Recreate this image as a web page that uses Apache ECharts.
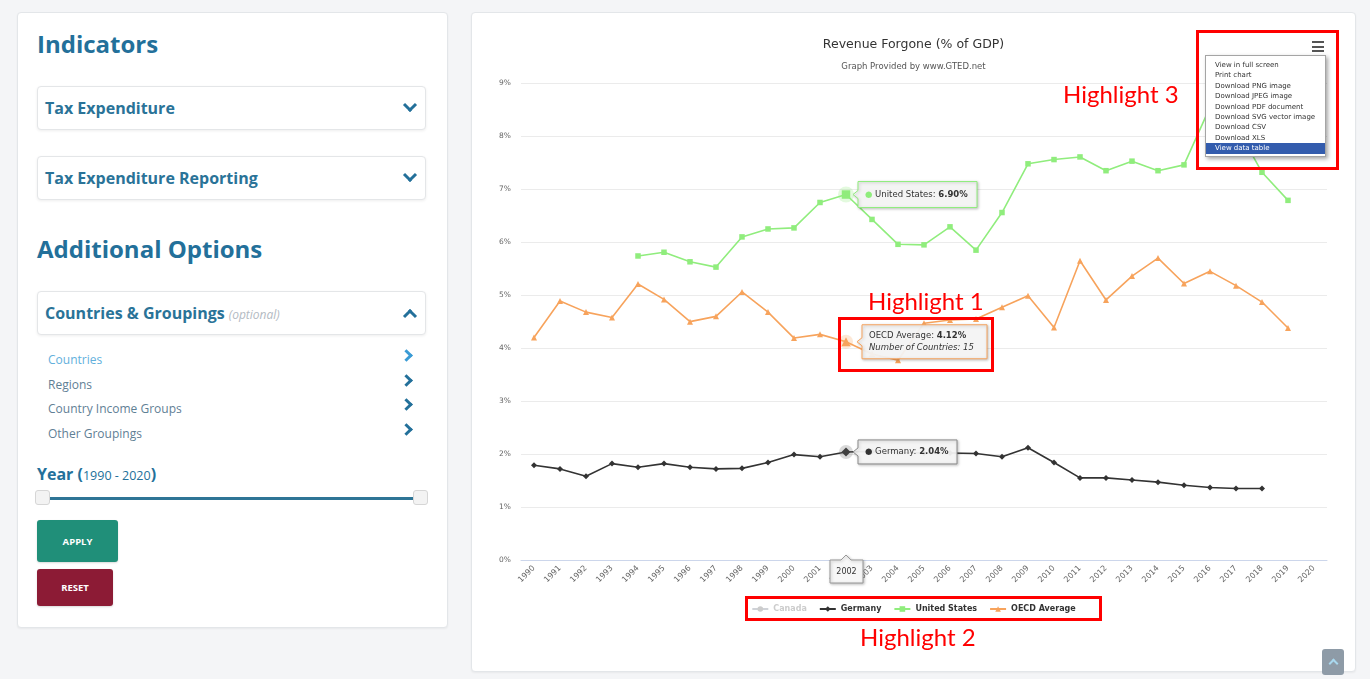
<!DOCTYPE html>
<html>
<head>
<meta charset="utf-8">
<title>Revenue Forgone (% of GDP)</title>
<script src="https://cdn.jsdelivr.net/npm/echarts@6/dist/echarts.min.js"></script>
<style>
html,body{margin:0;padding:0;}
body{width:1370px;height:679px;overflow:hidden;background:#f4f5f7;position:relative;font-family:"Open Sans",sans-serif;}
.card{position:absolute;background:#fff;border:1px solid #e3e6e9;border-radius:4px;box-sizing:border-box;box-shadow:0 1px 2px rgba(0,0,0,0.05);}
.h{position:absolute;left:37px;font-size:24px;line-height:24px;font-weight:700;color:#23709a;white-space:nowrap;}
.acc{position:absolute;left:37px;width:389px;height:44px;box-sizing:border-box;border:1px solid #e4e6e8;border-radius:4px;background:#fff;box-shadow:0 1px 3px rgba(0,0,0,0.07);}
.acc-t{position:absolute;left:45px;font-size:16px;line-height:16px;font-weight:700;color:#2a7398;white-space:nowrap;}
.opt{font-size:12px;font-weight:400;font-style:italic;color:#b3bac2;margin-left:4px;}
.chev{position:absolute;width:7px;height:7px;border-right:3px solid #23709a;border-bottom:3px solid #23709a;}
.li{position:absolute;left:48px;font-size:12px;line-height:12px;color:#5f8095;white-space:nowrap;}
.year{position:absolute;left:37px;top:465.8px;font-size:16px;line-height:16px;font-weight:700;color:#23709a;white-space:nowrap;}
.year .r{font-size:12.5px;font-weight:400;}
.btn{position:absolute;left:37px;color:#fff;font-weight:700;font-size:9.5px;display:flex;align-items:center;justify-content:center;border-radius:3px;box-shadow:0 1px 2px rgba(0,0,0,0.15);}
.hb{position:absolute;border:3px solid #ff0000;box-sizing:border-box;z-index:20;}
.hl{position:absolute;font-family:Lato,sans-serif;font-size:24px;line-height:24px;color:#ff0000;white-space:nowrap;z-index:20;}
#chart{position:absolute;left:471px;top:12px;width:885px;height:660px;z-index:5;}
.menu{position:absolute;left:1205px;top:55px;width:121px;height:102px;box-sizing:border-box;background:#fff;border:1px solid #a5a5a5;box-shadow:2px 2px 4px rgba(0,0,0,0.35);padding-top:4px;z-index:15;font-family:"DejaVu Sans",sans-serif;font-size:7px;color:#333;}
.menu div{height:10.4px;line-height:10.4px;padding-left:9px;white-space:nowrap;}
.menu div.sel{background:#335cad;color:#fff;}
.burger{position:absolute;left:1312px;width:12px;height:2px;background:#555;z-index:15;}
.totop{position:absolute;left:1322px;top:649px;width:22px;height:26px;background:#8e9ba7;border-radius:3px;z-index:10;}
.totop span{position:absolute;left:8px;top:11px;width:5px;height:5px;border-left:2px solid #a9d8ee;border-top:2px solid #a9d8ee;transform:rotate(45deg);}
</style>
</head>
<body>
<!-- left panel -->
<div class="card" style="left:17px;top:12px;width:431px;height:616px;"></div>
<div class="h" style="top:31.7px;">Indicators</div>

<div class="acc" style="top:86px;"></div>
<div class="acc-t" style="top:99.8px;">Tax Expenditure</div>
<span class="chev" style="left:405px;top:100px;transform:rotate(45deg);"></span>

<div class="acc" style="top:156px;"></div>
<div class="acc-t" style="top:169.8px;">Tax Expenditure Reporting</div>
<span class="chev" style="left:405px;top:170px;transform:rotate(45deg);"></span>

<div class="h" style="top:237px;">Additional Options</div>

<div class="acc" style="top:291px;"></div>
<div class="acc-t" style="top:304.8px;">Countries &amp; Groupings<span class="opt">(optional)</span></div>
<span class="chev" style="left:405px;top:311px;transform:rotate(-135deg);"></span>

<div class="li" style="top:354.3px;color:#62b0dc;">Countries</div>
<span class="chev" style="left:402px;top:351px;width:6px;height:6px;transform:rotate(-45deg);border-color:#3a9bd5;"></span>
<div class="li" style="top:378.6px;">Regions</div>
<span class="chev" style="left:402px;top:375.5px;width:6px;height:6px;transform:rotate(-45deg);"></span>
<div class="li" style="top:403.3px;">Country Income Groups</div>
<span class="chev" style="left:402px;top:400px;width:6px;height:6px;transform:rotate(-45deg);"></span>
<div class="li" style="top:427.6px;">Other Groupings</div>
<span class="chev" style="left:402px;top:425px;width:6px;height:6px;transform:rotate(-45deg);"></span>

<div class="year">Year (<span class="r">1990 - 2020</span>)</div>
<div style="position:absolute;left:50px;top:497px;width:364px;height:3px;background:#2e7596;"></div>
<div style="position:absolute;left:35px;top:490px;width:15px;height:15px;box-sizing:border-box;background:#f3f3f3;border:1px solid #d6d6d6;border-radius:3px;"></div>
<div style="position:absolute;left:413px;top:490px;width:15px;height:15px;box-sizing:border-box;background:#f3f3f3;border:1px solid #d6d6d6;border-radius:3px;"></div>

<div class="btn" style="top:520px;width:81px;height:42px;background:#208f79;">APPLY</div>
<div class="btn" style="top:569px;width:76px;height:37px;background:#8c1b35;">RESET</div>

<!-- right panel -->
<div class="card" style="left:471px;top:12px;width:885px;height:660px;"></div>
<div id="chart"></div>

<!-- export menu -->
<div class="burger" style="top:41px;"></div>
<div class="burger" style="top:45.5px;"></div>
<div class="burger" style="top:50px;"></div>
<div class="menu">
  <div>View in full screen</div>
  <div>Print chart</div>
  <div>Download PNG image</div>
  <div>Download JPEG image</div>
  <div>Download PDF document</div>
  <div>Download SVG vector image</div>
  <div>Download CSV</div>
  <div>Download XLS</div>
  <div class="sel">View data table</div>
</div>

<!-- highlight annotations -->
<div class="hb" style="left:838px;top:317px;width:156px;height:55px;"></div>
<div class="hl" style="left:868px;top:288.7px;">Highlight 1</div>
<div class="hb" style="left:745px;top:596px;width:357px;height:25px;"></div>
<div class="hl" style="left:860px;top:624.7px;">Highlight 2</div>
<div class="hb" style="left:1196px;top:30px;width:143px;height:140px;"></div>
<div class="hl" style="left:1063px;top:82.2px;">Highlight 3</div>

<div class="totop"><span></span></div>

<script>
// ---------- data ----------
const chartTitle = 'Revenue Forgone (% of GDP)';
const chartSubtitle = 'Graph Provided by www.GTED.net';
const years = ['1990','1991','1992','1993','1994','1995','1996','1997','1998','1999',
  '2000','2001','2002','2003','2004','2005','2006','2007','2008','2009',
  '2010','2011','2012','2013','2014','2015','2016','2017','2018','2019','2020'];
const seriesNames = ['Canada','Germany','United States','OECD Average'];
const canada = [];
const germany = [1.79,1.72,1.58,1.82,1.75,1.82,1.75,1.72,1.73,1.84,
  1.99,1.95,2.04,2.05,2.03,2.02,2.02,2.01,1.95,2.12,
  1.84,1.55,1.55,1.51,1.47,1.41,1.37,1.35,1.35,null,null];
const unitedStates = [null,null,null,null,5.74,5.81,5.63,5.53,6.10,6.25,
  6.27,6.75,6.90,6.43,5.96,5.95,6.29,5.85,6.56,7.48,
  7.56,7.61,7.35,7.53,7.35,7.46,8.55,8.20,7.32,6.79,null];
const oecdAverage = [4.20,4.89,4.68,4.58,5.21,4.92,4.50,4.60,5.06,4.68,
  4.19,4.26,4.12,3.89,3.77,4.47,4.53,4.55,4.77,4.99,
  4.39,5.65,4.91,5.36,5.70,5.22,5.45,5.18,4.87,4.38,null];
const yAxisMin = 0, yAxisMax = 9, yAxisStep = 1;
const hoverYear = '2002';
const oecdCountryCount = 15;

// ---------- styles ----------
const colors = {Canada:'#7cb5ec', Germany:'#333333', 'United States':'#90ed7d', 'OECD Average':'#f7a35c'};
const hi = years.indexOf(hoverYear);

function lineSeries(name, data, symbol, size) {
  return {
    name, type:'line', data: data.map((v,i) => i === hi && v != null ? {value:v, symbolSize:size + 3} : v),
    symbol, symbolSize:size, showSymbol:true, showAllSymbol:true, connectNulls:false,
    itemStyle:{color:colors[name]}, lineStyle:{color:colors[name], width:1.6},
    emphasis:{disabled:true}
  };
}

const chart = echarts.init(document.getElementById('chart'), null, {renderer:'canvas', width:885, height:660});
const option = {
  animation:false,
  backgroundColor:'transparent',
  title:[
    {text:chartTitle, left:'center', top:26, padding:0,
     textStyle:{fontFamily:'DejaVu Sans', fontSize:12.5, fontWeight:'normal', color:'#333'}},
    {text:chartSubtitle, left:'center', top:50.5, padding:0,
     textStyle:{fontFamily:'DejaVu Sans', fontSize:8.5, fontWeight:'normal', color:'#555'}}
  ],
  legend:{
    data:seriesNames, top:593, left:'center', padding:0, itemGap:12, itemWidth:16, itemHeight:7,
    selected:{Canada:false}, inactiveColor:'#cccccc',
    textStyle:{fontFamily:'DejaVu Sans', fontWeight:'bold', fontSize:8, color:'#333'}
  },
  grid:{left:50, top:71.3, width:806, height:476.7, containLabel:false, outerBoundsMode:'none'},
  xAxis:{
    type:'category', data:years, boundaryGap:true,
    axisLine:{lineStyle:{color:'#ccd6eb'}}, axisTick:{show:false},
    axisLabel:{rotate:45, interval:0, fontSize:8, color:'#666', margin:7, fontFamily:'DejaVu Sans'}
  },
  yAxis:{
    type:'value', min:yAxisMin, max:yAxisMax, interval:yAxisStep,
    axisLine:{show:false}, axisTick:{show:false},
    splitLine:{lineStyle:{color:'#ebebeb', width:1}},
    axisLabel:{formatter:'{value}%', fontSize:7.5, color:'#666', margin:10, fontFamily:'DejaVu Sans'}
  },
  series:[
    lineSeries('Canada', canada, 'circle', 5),
    lineSeries('Germany', germany, 'diamond', 6),
    lineSeries('United States', unitedStates, 'rect', 5.5),
    lineSeries('OECD Average', oecdAverage, 'triangle', 6)
  ]
};
chart.setOption(option);

// ---------- static hover tooltips (positions from the chart's own scales) ----------
const pct = v => v.toFixed(2) + '%';
const px = (v) => chart.convertToPixel({gridIndex:0}, [hi, v]);

function callout(p, dx, w, h, stroke, text, rich, lh) {
  const x0 = p[0] + dx, y0 = p[1] - h/2, x1 = x0 + w, y1 = y0 + h, cy = p[1];
  return [
    {type:'polygon', z:100,
     shape:{points:[[x0,y0],[x1,y0],[x1,y1],[x0,y1],[x0,cy+4],[x0-5,cy],[x0,cy-4]]},
     style:{fill:'rgba(247,247,247,0.93)', stroke, lineWidth:1,
            shadowBlur:3, shadowColor:'rgba(0,0,0,0.25)', shadowOffsetX:1, shadowOffsetY:1}},
    {type:'text', z:101, x:x0 + 7, y:cy,
     style:{text, rich, fontFamily:'DejaVu Sans', fontSize:8.5, fill:'#333',
            verticalAlign:'middle', align:'left', lineHeight:lh || 11}}
  ];
}
function halo(p, color, r) {
  return {type:'circle', z:90, shape:{cx:p[0], cy:p[1], r}, style:{fill:color, opacity:0.25}};
}

const pUS = px(unitedStates[hi]);
const pOE = px(oecdAverage[hi]);
const pDE = px(germany[hi]);
const p0 = px(0);

const rich = (c) => ({
  d:{fill:c, fontSize:8.5, fontFamily:'DejaVu Sans'},
  b:{fontWeight:'bold', fontSize:8.5, fontFamily:'DejaVu Sans', fill:'#333'},
  i:{fontStyle:'italic', fontSize:8.5, fontFamily:'DejaVu Sans', fill:'#333'},
  n:{fontSize:8.5, fontFamily:'DejaVu Sans', fill:'#333'}
});

const bx0 = p0[0] - 16, bx1 = p0[0] + 17, by0 = p0[1], by1 = p0[1] + 23;
const graphics = [
  halo(pUS, colors['United States'], 8),
  halo(pOE, colors['OECD Average'], 7),
  halo(pDE, '#666', 7),
  ...callout(pUS, 12, 119, 26, colors['United States'],
    '{d|●} {n|United States: }{b|' + pct(unitedStates[hi]) + '}', rich(colors['United States'])),
  ...callout(pOE, 16, 125, 34, colors['OECD Average'],
    '{n|OECD Average: }{b|' + pct(oecdAverage[hi]) + '}\n{i|Number of Countries: ' + oecdCountryCount + '}',
    rich(colors['OECD Average']), 11.5),
  ...callout(pDE, 12, 99, 24, '#8a8a8a',
    '{d|●} {n|Germany: }{b|' + pct(germany[hi]) + '}', rich('#333')),
  {type:'polygon', z:100,
   shape:{points:[[bx0,by0],[p0[0]-5,by0],[p0[0],by0-5],[p0[0]+5,by0],[bx1,by0],[bx1,by1],[bx0,by1]]},
   style:{fill:'#f7f7f7', stroke:'#999', lineWidth:1,
          shadowBlur:3, shadowColor:'rgba(0,0,0,0.25)', shadowOffsetX:1, shadowOffsetY:1}},
  {type:'text', z:101, x:p0[0] + 0.5, y:(by0 + by1)/2,
   style:{text:hoverYear, fontFamily:'DejaVu Sans', fontSize:8, fill:'#333', align:'center', verticalAlign:'middle'}}
];
chart.setOption({graphic:graphics});
</script>
</body>
</html>
